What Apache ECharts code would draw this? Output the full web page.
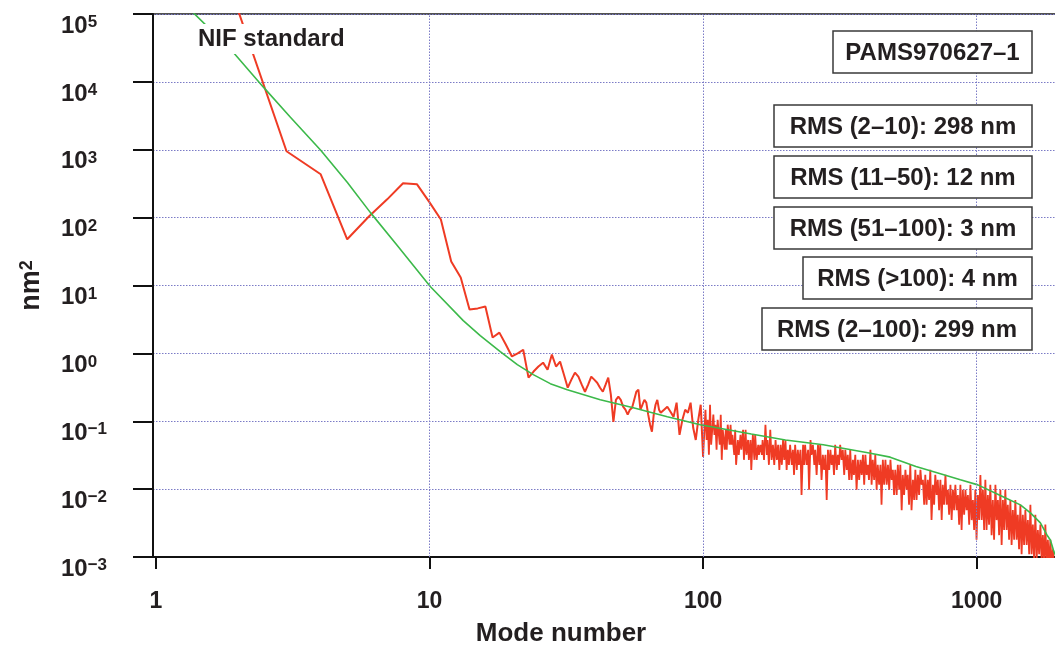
<!DOCTYPE html>
<html><head><meta charset="utf-8">
<script src="https://cdn.jsdelivr.net/npm/echarts@6/dist/echarts.min.js"></script>
<style>html,body{margin:0;padding:0;background:#fff}#c{width:1055px;height:649px}</style>
</head><body><div id="c"></div>
<script>
// ---- data ----
// measured spectrum, low modes (individual modes distinguishable)
const redModesLow = [2,3,4,5,6,7,8,9,10,11,12,13,14,15,16,17,18,19,20,21,22,23,24,25,26,27,28,29,30,
  31,32,33,34,35,36,37,38,39,40,41,42,43,44,45,46,47,48,49,50,51,52,53,54,55,56,57,58,59,60,
  61,62,63,64,65,66,67,68,69,70,72,74,76,78,80,82,84,86,88,90,92,94,96,98,100];
const redValuesLow = [1.1e5,950,435,48,104,186,321,309,168,94,22.6,13.1,4.43,4.6,4.9,1.71,2.02,1.35,0.90,1.0,1.13,0.44,0.54,0.64,0.73,0.575,0.96,0.64,0.755,
  0.485,0.312,0.41,0.52,0.454,0.346,0.272,0.346,0.454,0.41,0.37,0.312,0.272,0.346,0.44,0.246,0.098,0.207,0.23,0.207,0.164,0.148,0.125,0.148,0.158,0.207,0.272,0.292,0.148,0.175,
  0.207,0.188,0.125,0.089,0.070,0.125,0.175,0.207,0.148,0.133,0.148,0.164,0.138,0.116,0.188,0.063,0.105,0.148,0.133,0.188,0.080,0.053,0.105,0.175,0.030];
// measured spectrum, high modes (dense noisy band)
const redModesHigh = [
  102,103,104,105, 106,107,109,110, 111,112,113,115, 116,117,118,120, 121,122,123,125,
  126,127,128,130, 131,132,134,135, 137,138,140,141, 143,144,146,147, 149,150,152,154,
  155,157,159,160, 162,164,165,167, 169,171,172,174, 176,178,180,182, 184,186,188,190,
  192,194,196,198, 200,202,204,206, 208,211,213,215, 217,220,222,224, 227,229,232,234,
  236,239,242,244, 247,249,252,255, 257,260,263,266, 268,271,274,277, 280,283,286,289,
  292,295,298,301, 304,308,311,314, 317,321,324,328, 331,335,338,342, 345,349,353,356,
  360,364,368,372, 376,380,384,388, 392,396,400,404, 409,413,417,422, 426,431,435,440,
  445,449,454,459, 464,469,474,479, 484,489,494,499, 504,510,515,521, 526,532,537,543,
  549,555,560,566, 572,578,585,591, 597,603,610,616, 623,629,636,643, 649,656,663,670,
  677,684,692,699, 706,714,721,729, 737,745,752,760, 769,777,785,793, 802,810,819,827,
  836,845,854,863, 872,881,890,900, 910,919,929,939, 949,959,969,979, 989,999,1010,1021,
  1032,1043,1054,1065, 1076,1087,1099,1110, 1122,1134,1146,1158, 1171,1183,1196,1208, 1221,1234,1247,1260,
  1273,1287,1300,1314, 1328,1342,1356,1371, 1385,1400,1414,1429, 1445,1460,1475,1491, 1507,1523,1539,1556,
  1572,1588,1605,1622, 1639,1657,1674,1692, 1710,1728,1746,1765, 1783,1802,1821,1840, 1860,1880,1900,1920];
const redValuesHigh = [
  0.148,0.053,0.105,0.032, 0.175,0.045,0.125,0.063, 0.089,0.038,0.105,0.045, 0.125,0.027,0.075,0.038, 0.075,0.038,0.089,0.045,
  0.089,0.045,0.063,0.032, 0.075,0.0228,0.053,0.032, 0.063,0.038,0.075,0.027, 0.075,0.032,0.053,0.027, 0.053,0.0192,0.063,0.027,
  0.063,0.027,0.045,0.032, 0.045,0.032,0.053,0.027, 0.089,0.032,0.053,0.0228, 0.075,0.027,0.045,0.0228, 0.053,0.027,0.045,0.0192,
  0.045,0.0228,0.053,0.027, 0.053,0.0192,0.038,0.0228, 0.045,0.0228,0.038,0.0162, 0.045,0.0192,0.038,0.0228, 0.038,0.0082,0.045,0.0228,
  0.045,0.0228,0.038,0.0098, 0.053,0.032,0.045,0.0228, 0.038,0.0162,0.045,0.0228, 0.045,0.0137,0.032,0.0192, 0.032,0.0069,0.038,0.0192,
  0.038,0.0228,0.032,0.0162, 0.045,0.0192,0.032,0.0228, 0.045,0.027,0.038,0.0162, 0.038,0.0192,0.032,0.0137, 0.038,0.0137,0.027,0.0162,
  0.032,0.0098,0.027,0.0137, 0.027,0.0162,0.032,0.0116, 0.032,0.0162,0.0228,0.0137, 0.038,0.0116,0.027,0.0137, 0.032,0.0098,0.0228,0.0116,
  0.0228,0.0059,0.027,0.0116, 0.027,0.0116,0.0228,0.0098, 0.027,0.0137,0.0192,0.0082, 0.0192,0.0082,0.0228,0.0098, 0.0228,0.0049,0.0162,0.0082,
  0.0192,0.0098,0.0162,0.0059, 0.0228,0.0049,0.0137,0.0069, 0.0192,0.0069,0.0162,0.0082, 0.0192,0.0116,0.0137,0.0059, 0.0162,0.0059,0.0137,0.0069,
  0.0192,0.0035,0.0116,0.0059, 0.0162,0.0082,0.0137,0.0049, 0.0137,0.0035,0.0116,0.0059, 0.0162,0.0059,0.0098,0.0042, 0.0116,0.0035,0.0098,0.0049,
  0.0116,0.0049,0.0082,0.0030, 0.0116,0.0025,0.0098,0.0042, 0.0098,0.0049,0.0082,0.0030, 0.0116,0.0035,0.0069,0.0025, 0.0098,0.0018,0.0082,0.0035,
  0.0162,0.0035,0.0098,0.0025, 0.0137,0.0025,0.0082,0.0030, 0.0116,0.0021,0.0069,0.0018, 0.0116,0.0035,0.0069,0.0021, 0.0098,0.0015,0.0069,0.0025,
  0.0098,0.0025,0.0059,0.0018, 0.0069,0.0015,0.0049,0.0018, 0.0069,0.0018,0.0042,0.0013, 0.0059,0.0011,0.0042,0.0015, 0.0049,0.0015,0.0035,0.0011,
  0.0059,0.0011,0.0030,0.0009, 0.0042,0.0009,0.0025,0.0011, 0.0030,0.0009,0.0021,0.00076, 0.0030,0.00076,0.0018,0.00076, 0.0018,0.00076,0.0013,0.00076];
// NIF standard curve
const greenModes = [1,1.36,1.87,2.47,3.1,4,5,6.07,7.62,10.06,13.28,15.32,18.13,20.93,23.94,27.63,31.88,42.08,55.57,73.98,97.68,
  150,200,275,400,483,600,737,872,1010,1254,1445,1572,1710,1807,1860,1908,1942];
const greenValues = [3.3e5,1.07e5,3.04e4,8.36e3,3.02e3,983,331,119.5,38.9,9.66,3.04,1.83,1.06,0.682,0.486,0.358,0.292,0.2076,0.158,0.1165,0.0888,
  0.065,0.053,0.045,0.0343,0.0296,0.0216,0.0168,0.0137,0.01155,0.00768,0.00586,0.00446,0.00318,0.00211,0.00178,0.00127,0.00105];
const xTickValues = [1, 10, 100, 1000];
const xGridValues = [10, 100, 1000];
const xAxisTitle = 'Mode number';
const yAxisTitle = 'nm';
const yAxisTitleSup = '2';
const curveLabel = 'NIF standard';
const boxLabels = ['PAMS970627\u20131', 'RMS (2\u201310): 298 nm', 'RMS (11\u201350): 12 nm',
  'RMS (51\u2013100): 3 nm', 'RMS (>100): 4 nm', 'RMS (2\u2013100): 299 nm'];

// ---- layout / style ----
const FONT = "'Liberation Sans', Arial, sans-serif";
const TXT = '#231f20';
const GRIDC = '#7b7bc6';
const RED = '#ef3b24';
const boxRects = [[833,31,199,42],[774,105,258,42],[774,156,258,42],[774,207,258,42],[803,257,229,42],[762,308,270,42]];

const zip = (a, b) => a.map((v, i) => [v, b[i]]);
const redLow = zip(redModesLow, redValuesLow);
const redHigh = [redLow[redLow.length - 1]].concat(zip(redModesHigh, redValuesHigh));

const graphics = [];
boxLabels.forEach((t, i) => {
  const [x, y, w, h] = boxRects[i];
  graphics.push({type:'rect', z:100, shape:{x, y, width:w, height:h},
    style:{fill:'#fff', stroke:'#3a3a3a', lineWidth:1.5}});
  graphics.push({type:'text', z:101, x: x + w/2, y: y + h/2 + 1,
    style:{text:t, fontSize:24, fontWeight:'bold', fontFamily:FONT, fill:TXT,
      align:'center', verticalAlign:'middle', textAlign:'center', textVerticalAlign:'middle'}});
});
graphics.push({type:'text', z:101, x:195, y:39,
  style:{text:curveLabel, fontSize:24, fontWeight:'bold', fontFamily:FONT, fill:TXT,
    backgroundColor:'#fff', padding:[3,3,3,3],
    align:'left', verticalAlign:'middle', textAlign:'left', textVerticalAlign:'middle'}});

const chart = echarts.init(document.getElementById('c'), null, {renderer:'canvas'});
chart.setOption({
  animation:false,
  backgroundColor:'#fff',
  textStyle:{fontFamily:FONT},
  grid:{left:153, top:14, right:-4, bottom:92, containLabel:false, outerBoundsMode:'none',
    show:true, borderColor:'#1a1a1a', borderWidth:1.5, backgroundColor:'transparent'},
  xAxis:{
    type:'log', logBase:10, min:0.975, max:2000,
    name:xAxisTitle, nameLocation:'middle', nameGap:64,
    nameTextStyle:{fontSize:26, fontWeight:'bold', color:TXT, fontFamily:FONT, padding:[0,90,0,0]},
    axisLine:{show:true, onZero:false, lineStyle:{color:'#111', width:2}},
    axisTick:{show:true, length:12, lineStyle:{color:'#111', width:2}, customValues:xTickValues},
    axisLabel:{show:true, margin:33, fontSize:23, fontWeight:'bold', color:TXT, fontFamily:FONT,
      customValues:xTickValues,
      formatter: v => { const r = Math.round(v); return (xTickValues.indexOf(r) >= 0 && Math.abs(v - r) < 1e-6) ? String(r) : ''; }},
    splitLine:{show:false},
    minorTick:{show:false}, minorSplitLine:{show:false}
  },
  yAxis:{
    type:'log', logBase:10, min:0.001, max:100000,
    name:'{a|' + yAxisTitle + '}{s|' + yAxisTitleSup + '}', nameLocation:'middle', nameGap:108,
    nameTextStyle:{color:TXT, rich:{
      a:{fontSize:27, fontWeight:'bold', fontFamily:FONT, color:TXT, lineHeight:27, verticalAlign:'bottom'},
      s:{fontSize:18, fontWeight:'bold', fontFamily:FONT, color:TXT, lineHeight:18, verticalAlign:'top', padding:[0,0,14,0]}}},
    axisLine:{show:true, onZero:false, lineStyle:{color:'#111', width:2}},
    axisTick:{show:true, length:20, lineStyle:{color:'#111', width:2}},
    axisLabel:{show:true, margin:92, align:'left', padding:[24,0,0,0],
      formatter: v => { const e = Math.round(Math.log10(v)); return '{b|10}{s|' + String(e).replace('-', '\u2212') + '}'; },
      rich:{
        b:{fontSize:24, fontWeight:'bold', fontFamily:FONT, color:TXT, lineHeight:24, verticalAlign:'bottom'},
        s:{fontSize:17, fontWeight:'bold', fontFamily:FONT, color:TXT, lineHeight:17, verticalAlign:'top', padding:[0,0,16,0]}}},
    splitLine:{show:true, lineStyle:{color:GRIDC, width:1, type:[1.5,1.5]}},
    minorTick:{show:false}, minorSplitLine:{show:false}
  },
  series:[
    {type:'line', data:[], z:1, silent:true,
      markLine:{silent:true, symbol:['none','none'], label:{show:false},
        lineStyle:{color:GRIDC, width:1, type:[1.5,1.5]},
        data:xGridValues.map(v => ({xAxis:v}))}},
    {type:'line', data:redLow, showSymbol:false, symbol:'none', clip:true,
      lineStyle:{color:RED, width:2}, z:3},
    {type:'line', data:redHigh, showSymbol:false, symbol:'none', clip:true,
      lineStyle:{color:RED, width:1.8}, z:3},
    {type:'line', data:zip(greenModes, greenValues), showSymbol:false, symbol:'none', clip:true,
      lineStyle:{color:'#3cb94a', width:1.6}, z:4}
  ],
  graphic:graphics
});
</script></body></html>
